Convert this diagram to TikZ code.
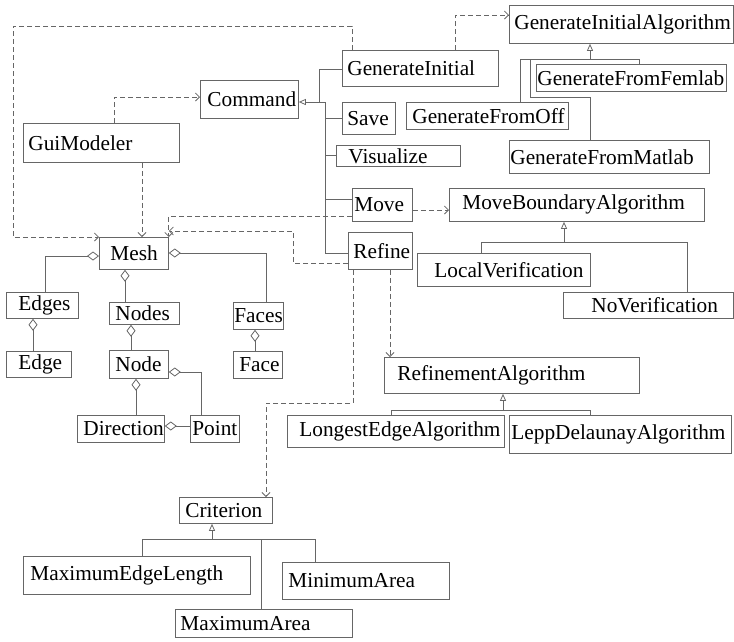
\documentclass[tikz,border=0pt]{standalone}
\usepackage{fontspec}
\setmainfont{Liberation Serif}
\usetikzlibrary{arrows.meta}

\definecolor{linec}{gray}{0.4}
\newcommand{\clsfont}{\fontsize{21.3}{25}\selectfont}

\tikzset{
    cls/.style={draw=linec, line width=0.8pt, anchor=north west, inner ysep=0pt, align=left, font=\clsfont},
    conn/.style={draw=linec, line width=0.8pt},
    inh/.style={conn, -{Triangle[open,length=7pt,width=6pt]}},
    dep/.style={conn, dash pattern=on 5pt off 3pt, -{Straight Barb[length=4pt,width=8pt]}},
    agg/.style={conn, {Diamond[open,length=12pt,width=9pt]}-}
}

\begin{document}
\begin{tikzpicture}[x=1pt,y=-1pt]
    \useasboundingbox (0,0) rectangle (734,641);

    % --- Comandi ---
    \node[cls, minimum height=38, text width=84,  inner xsep=7]  (command)    at (200,80)  {Command};
    \node[cls, minimum height=39, text width=146, inner xsep=5]  (guimodeler) at (23,123)  {GuiModeler};
    \node[cls, minimum height=36, text width=146, inner xsep=5]  (geninit)    at (342,50)  {GenerateInitial};
    \node[cls, minimum height=32, text width=43,  inner xsep=5]  (save)       at (342,102) {Save};
    \node[cls, minimum height=21, text width=100, inner xsep=12] (visualize)  at (336,145) {Visualize};
    \node[cls, minimum height=33, text width=56,  inner xsep=2]  (move)       at (352,188) {Move};
    \node[cls, minimum height=37, text width=54,  inner xsep=5]  (refine)     at (348,232) {Refine};

    % --- Algoritmi ---
    \node[cls, minimum height=38, text width=214, inner xsep=5]  (genalg)     at (509,5)   {GenerateInitialAlgorithm};
    \node[cls, minimum height=27, text width=188, inner xsep=1]  (femlab)     at (536,64)  {GenerateFromFemlab};
    \node[cls, minimum height=27, text width=150, inner xsep=6]  (fromoff)    at (406,102) {GenerateFromOff};
    \node[cls, minimum height=33, text width=198, inner xsep=1]  (frommatlab) at (509,140) {GenerateFromMatlab};
    \node[cls, minimum height=33, text width=229, inner xsep=13] (moveba)     at (449,188) {MoveBoundaryAlgorithm};
    \node[cls, minimum height=33, text width=139, inner xsep=17] (localver)   at (417,253) {LocalVerification};
    \node[cls, minimum height=26, text width=114, inner xsep=28] (nover)      at (563,292) {NoVerification};
    \node[cls, minimum height=36, text width=229, inner xsep=13] (refalg)     at (384,357) {RefinementAlgorithm};
    \node[cls, minimum height=32, text width=193, inner xsep=12] (longest)    at (287,415) {LongestEdgeAlgorithm};
    \node[cls, minimum height=38, text width=218, inner xsep=2]  (lepp)       at (509,415) {LeppDelaunayAlgorithm};

    % --- Mesh ---
    \node[cls, minimum height=32, text width=47,  inner xsep=11] (mesh)      at (99,237)  {Mesh};
    \node[cls, minimum height=26, text width=48,  inner xsep=12] (edges)     at (6,292)   {Edges};
    \node[cls, minimum height=26, text width=41,  inner xsep=12] (edge)      at (6,351)   {Edge};
    \node[cls, minimum height=22, text width=58,  inner xsep=6]  (nodes)     at (109,302) {Nodes};
    \node[cls, minimum height=28, text width=47,  inner xsep=6]  (node)      at (109,350) {Node};
    \node[cls, minimum height=27, text width=48,  inner xsep=1]  (faces)     at (233,302) {Faces};
    \node[cls, minimum height=27, text width=37,  inner xsep=6]  (face)      at (233,351) {Face};
    \node[cls, minimum height=27, text width=75,  inner xsep=6]  (direction) at (77,415)  {Direction};
    \node[cls, minimum height=27, text width=45,  inner xsep=2]  (point)     at (190,415) {Point};

    % --- Criteri ---
    \node[cls, minimum height=26, text width=81,  inner xsep=6]  (criterion) at (179,497) {Criterion};
    \node[cls, minimum height=38, text width=213, inner xsep=7]  (maxedge)   at (23,556)  {MaximumEdgeLength};
    \node[cls, minimum height=37, text width=155, inner xsep=6]  (minarea)   at (282,562) {MinimumArea};
    \node[cls, minimum height=28, text width=167, inner xsep=5]  (maxarea)   at (175,609) {MaximumArea};

    % Ereditarieta' di Command
    \draw[inh] (refine.west |- 0,253) -| (325,102) -- (command.east |- 0,102);
    \draw[conn] (geninit.west |- 0,69) -| (319,102);
    \draw[conn] (save.west |- 0,118) -- (325,118);
    \draw[conn] (visualize.west |- 0,155) -- (325,155);
    \draw[conn] (move.west |- 0,199) -- (325,199);

    % Ereditarieta' degli algoritmi
    \coordinate (genbus) at (590,59);
    \draw[inh] (genbus) -- (genalg.south -| genbus);
    \draw[conn] (fromoff.north -| 520,0) |- (639,59) -- (femlab.north -| 639,0);
    \draw[conn] (frommatlab.north -| genbus) -- (590,97) -| (530,59);

    \draw[inh] (564,242) -- (moveba.south -| 564,0);
    \draw[conn] (localver.north -| 481,0) |- (687,242) -- (nover.north -| 687,0);

    \draw[inh] (503,410) -- (refalg.south -| 503,0);
    \draw[conn] (longest.north -| 391,0) |- (590,410) -- (lepp.north -| 590,0);

    \draw[inh] (212,539) -- (criterion.south -| 212,0);
    \draw[conn] (maxedge.north -| 142,0) |- (315,539) -- (minarea.north -| 315,0);
    \draw[conn] (maxarea.north -| 261,0) -- (261,539);

    % Dipendenze (tratteggiate)
    \draw[dep] (guimodeler.north -| 114,0) |- (command.west |- 0,97);
    \draw[dep] (guimodeler.south -| 142,0) -- (mesh.north -| 142,0);
    \draw[dep] (geninit.north -| 352,0) |- (13,26) |- (mesh.north west);
    \draw[dep] (geninit.north -| 455,0) |- (genalg.west |- 0,15);
    \draw[dep] (move.west |- 0,216) -| (mesh.north east);
    \draw[dep] (refine.west |- 0,263) -| (293,231) -- (mesh.north east |- 0,231);
    \draw[dep] (move.east |- 0,210) -- (moveba.west |- 0,210);
    \draw[dep] (refine.south -| 390,0) -- (refalg.north -| 390,0);
    \draw[dep] (refine.south -| 353,0) |- (266,403) -- (criterion.north -| 266,0);

    % Aggregazioni
    \draw[agg] (mesh.west |- 0,256) -| (edges.north -| 45,0);
    \draw[agg] (mesh.south -| 125,0) -- (nodes.north -| 125,0);
    \draw[agg] (mesh.east |- 0,253) -| (faces.north -| 266,0);
    \draw[agg] (edges.south -| 33,0) -- (edge.north -| 33,0);
    \draw[agg] (nodes.south -| 131,0) -- (node.north -| 131,0);
    \draw[agg] (faces.south -| 255,0) -- (face.north -| 255,0);
    \draw[agg] (node.south -| 136,0) -- (direction.north -| 136,0);
    \draw[agg] (node.east |- 0,372) -| (point.north -| 201,0);
    \draw[agg] (direction.east |- 0,426) -- (point.west |- 0,426);
\end{tikzpicture}
\end{document}
